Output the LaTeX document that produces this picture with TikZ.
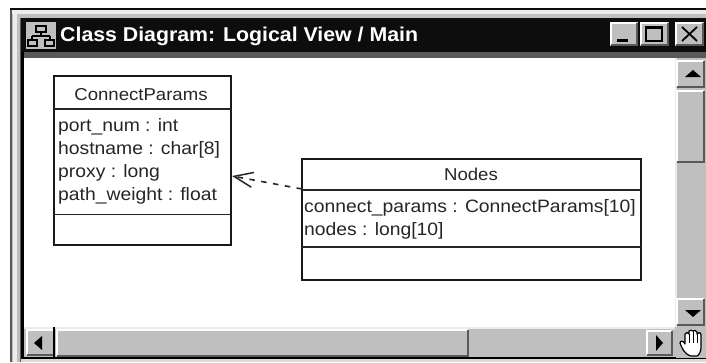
\documentclass[tikz,border=0pt]{standalone}
\usepackage{fontspec}
\setmainfont{Liberation Sans}
\newfontfamily\diagfont[FakeStretch=1.08]{Liberation Sans}
\newfontfamily\titlefont[FakeStretch=1.065]{Liberation Sans Bold}
\usetikzlibrary{arrows.meta}
\definecolor{wgray}{gray}{0.75}
\definecolor{wdark}{gray}{0.35}
\definecolor{wblack}{gray}{0.05}
\tikzset{
  classbox/.style={draw=black!90,line width=1.3pt,fill=white,rectangle,inner sep=0pt,outer sep=0pt},
  divider/.style={draw=black!85,line width=1.5pt},
  ctext/.style={font=\diagfont\fontsize{17.2pt}{19pt}\selectfont,inner sep=0pt,anchor=base,text=black!85},
  attr/.style={font=\diagfont\fontsize{17.9pt}{19pt}\selectfont,inner sep=0pt,anchor=base west,text=black!85},
  dep/.style={draw=black!85,line width=1.6pt,dash pattern=on 5.5pt off 6.5pt,-{Straight Barb[length=19pt,width=15pt,line width=1.5pt]}},
}
\newcommand{\bevel}[4]{%
  \fill[wgray] (#1,#2) rectangle (#3,#4);
  \draw[white,line width=1.5pt] (#1+1,#4-1) -- (#1+1,#2+1) -- (#3-1,#2+1);
  \draw[wdark,line width=1.6pt] (#1+1,#4-1) -- (#3-1,#4-1) -- (#3-1,#2+1);
}
\begin{document}
\begin{tikzpicture}[x=1pt,y=-1pt]
\useasboundingbox (0,0) rectangle (706,362);
\fill[white] (0,0) rectangle (706,362);
% window frame
\fill[wblack] (10,8) rectangle (706,362);
\fill[wdark] (10,10) rectangle (706,362);
\fill[wgray] (12,10) rectangle (706,362);
\fill[white!85!gray] (12,10) rectangle (706,14);
\fill[white!85!gray] (13,10) rectangle (17,362);
\fill[wdark] (20,18) rectangle (21,362);
% title bar
\fill[wblack] (21,18) rectangle (706,52);
\fill[wdark] (21,52) rectangle (706,58);
\fill[black] (21,52) rectangle (24,362);
% client area
\fill[white] (24,58) rectangle (675,327);
% icon
\fill[wgray] (26,22) rectangle (56,49);
\draw[black,line width=1.2pt] (36,26) rectangle (46,32);
\draw[black,line width=1.2pt] (41,32) -- (41,36) (32,36) -- (50,36) (32,36) -- (32,40) (50,36) -- (50,40);
\draw[black,line width=1.2pt] (28,40) rectangle (37,46);
\draw[black,line width=1.2pt] (45,40) rectangle (54,46);
\node[font=\titlefont\fontsize{20pt}{22pt}\selectfont,text=white,anchor=base west,inner sep=0pt] (title) at (60,41) {Class Diagram: Logical View / Main};
% title buttons
\bevel{610}{22}{638}{46}
\fill[black] (617,39) rectangle (628,42);
\bevel{640}{22}{669}{46}
\draw[black,line width=1.3pt] (646,27) rectangle (662,41);
\draw[black,line width=1.3pt] (646,28) -- (662,28);
\bevel{675}{22}{704}{46}
\draw[black,line width=1.8pt] (682,27) -- (697,41) (697,27) -- (682,41);
% vertical scrollbar
\fill[wgray] (675,58) rectangle (706,358);
\fill[white!85!gray] (675,58) rectangle (677,327);
\bevel{676}{60}{705}{88}
\fill[black] (685,77) -- (701,77) -- (693,70) -- cycle;
\bevel{676}{90}{705}{163}
\bevel{676}{298}{705}{326}
\fill[black] (685,310) -- (701,310) -- (693,317) -- cycle;
% horizontal scrollbar
\fill[wgray] (24,327) rectangle (675,358);
\fill[white!85!gray] (24,327) rectangle (675,329);
\fill[black] (21,356.5) rectangle (706,358.5);
\fill[wgray!60!white] (21,358.5) rectangle (706,362);
\bevel{26}{329}{55}{356}
\fill[black] (53,327) rectangle (55,357);
\fill[black] (34,343) -- (42,336) -- (42,350) -- cycle;
\bevel{56}{329}{469}{357}
\bevel{646}{330}{673}{356}
\fill[black] (656,335) -- (663,343) -- (656,351) -- cycle;
% hand corner
\fill[wgray] (676,327) rectangle (706,358);
\draw[black,fill=white,line width=1.2pt,line join=round]
  (691,356) .. controls (684,354) and (682,348) .. (680,343)
  .. controls (680,340) and (684,341) .. (685,344)
  -- (685,334) .. controls (686,332) and (688,332) .. (689,334)
  -- (689,331) .. controls (690,330) and (692,330) .. (693,331)
  -- (693,331) .. controls (694,330) and (696,330) .. (697,332)
  -- (697,334) .. controls (698,332) and (701,332) .. (701,335)
  -- (701,347) .. controls (701,352) and (699,355) .. (697,356) -- cycle;
\draw[black,line width=1pt] (689,334) -- (689,343) (693,331) -- (693,343) (697,334) -- (697,343);
% classes
\node[classbox,anchor=north west,minimum width=177pt,minimum height=169pt] (cp) at (54,76) {};
\draw[divider] (54,109) -- (231,109) (54,214.5) -- (231,214.5);
\node[ctext] (cpname) at (141,100) {ConnectParams};
\node[attr] (a1) at (58,131) {port\_num : int};
\node[attr] (a2) at (58,154) {hostname : char[8]};
\node[attr] (a3) at (58,177) {proxy : long};
\node[attr] (a4) at (58,200) {path\_weight : float};
\node[classbox,anchor=north west,minimum width=339pt,minimum height=121pt] (nd) at (302,159) {};
\draw[divider] (302,190) -- (641,190) (302,247) -- (641,247);
\node[ctext] (ndname) at (471,180) {Nodes};
\node[attr] (b1) at (304,212) {connect\_params : ConnectParams[10]};
\node[attr] (b2) at (304,235) {nodes : long[10]};
% dependency
\coordinate (depfrom) at (nd.west |- 0,189);
\coordinate (depto) at ([xshift=1pt]cp.east |- 0,176);
\draw[dep] (depfrom) -- (depto);
\end{tikzpicture}
\end{document}
